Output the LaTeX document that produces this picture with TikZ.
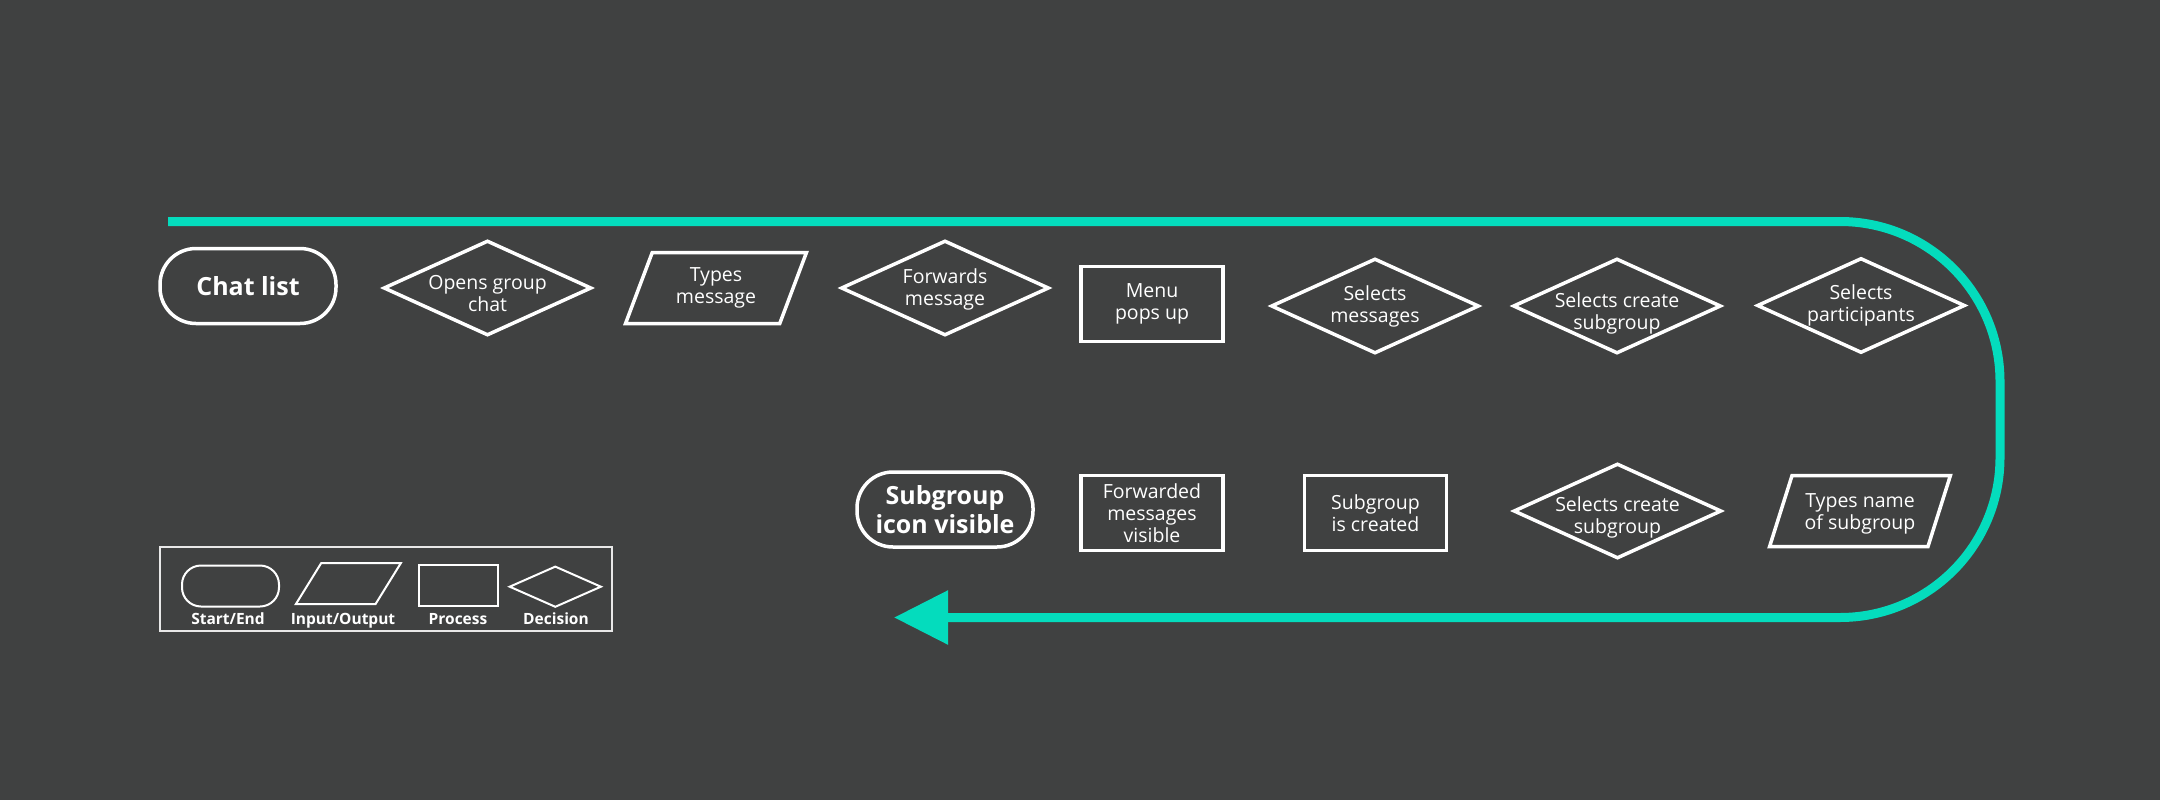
\documentclass[tikz,border=0pt]{standalone}
\usepackage{fontspec}
\setmainfont{Open Sans}
\usetikzlibrary{shapes.geometric,arrows.meta}
\definecolor{bgc}{HTML}{404141}
\definecolor{flowteal}{HTML}{04DCBD}
\newcommand{\txtlow}[2]{\raisebox{-#1}[\height][\depth]{\begin{tabular}{@{}c@{}}#2\end{tabular}}}
\tikzset{
  shp/.style={draw=white, line width=3.5pt, text=white, align=center,
    font=\fontsize{19.5}{22}\selectfont},
  term/.style={shp, rectangle, rounded corners=36pt, minimum width=176pt,
    minimum height=75pt, font=\fontsize{25}{29}\selectfont\bfseries},
  proc/.style={shp, rectangle, minimum width=142pt, minimum height=75pt, inner sep=1pt},
  dec/.style={shp, diamond, minimum width=208pt, minimum height=95pt,
    inner xsep=-25pt, inner ysep=-12pt},
  io/.style={shp, trapezium, trapezium left angle=68, trapezium right angle=112,
    trapezium stretches=true, minimum width=181pt, minimum height=71pt, inner sep=1pt},
  leg/.style={draw=white, line width=2pt},
  lterm/.style={leg, rectangle, rounded corners=19pt, minimum width=97pt, minimum height=41pt},
  lio/.style={leg, trapezium, trapezium left angle=65, trapezium right angle=115,
    trapezium stretches=true, minimum width=105pt, minimum height=41pt, inner sep=2pt},
  lproc/.style={leg, rectangle, minimum width=79pt, minimum height=41pt},
  ldec/.style={leg, diamond, minimum width=92pt, minimum height=41pt, inner sep=0pt},
  ltext/.style={text=white, anchor=base, inner sep=0pt, font=\fontsize{15.5}{18}\selectfont\bfseries},
  flow/.style={draw=flowteal, line width=9pt, rounded corners=160pt,
    -{Triangle[length=54pt,width=52pt]}},
}
\begin{document}
\begin{tikzpicture}[x=1pt,y=-1pt]
\fill[bgc] (0,0) rectangle (2160,800);
\useasboundingbox (0,0) rectangle (2160,800);

% top row
\node[term] (chat) at (248,286) {Chat list};
\node[dec] (open) at (487.5,288) {\txtlow{8pt}{Opens group\\chat}};
\node[io] (types) at (716,288) {Types\\message};
\node[dec] (fwd) at (945,288) {\txtlow{2pt}{Forwards\\message}};
\node[proc] (menu) at (1152,304) {Menu\\pops up};
\node[dec] (selmsg) at (1375,306) {Selects\\messages};
\node[dec] (selcreate) at (1617,306) {\txtlow{8pt}{Selects create\\subgroup}};
\node[dec] (selpart) at (1861,305.5) {Selects\\participants};

% bottom row
\node[io] (typename) at (1860,511) {\txtlow{3pt}{Types name\\of subgroup}};
\node[dec] (selcreateb) at (1617.5,511) {\txtlow{7pt}{Selects create\\subgroup}};
\node[proc] (created) at (1375.5,513) {Subgroup\\is created};
\node[proc] (fwdvis) at (1152,513) {Forwarded\\messages\\visible};
\node[term] (iconvis) at (945,509.5) {Subgroup\\icon visible};

% flow connector
\coordinate (start) at (168,221.5);
\coordinate (cornerA) at (2000,221.5);
\coordinate (cornerB) at (2000,617.5);
\coordinate (finish) at (894,617.5);
\draw[flow] (start) -- (cornerA) -- (cornerB) -- (finish);

% legend
\node[draw=white!88!bgc, line width=1.6pt, minimum width=452.5pt, minimum height=84.5pt] (legend) at (386,589) {};
\node[lterm] (l1) at (230.5,586) {};
\node[lio] (l2) at (348.3,583.7) {};
\node[lproc] (l3) at (458.7,585.3) {};
\node[ldec] (l4) at (555.3,586.7) {};
\node[ltext] (t1) at (228,624.5) {Start/End};
\node[ltext] (t2) at (343,624.5) {Input/Output};
\node[ltext] (t3) at (458,624.5) {Process};
\node[ltext] (t4) at (556,624.5) {Decision};
\end{tikzpicture}
\end{document}
